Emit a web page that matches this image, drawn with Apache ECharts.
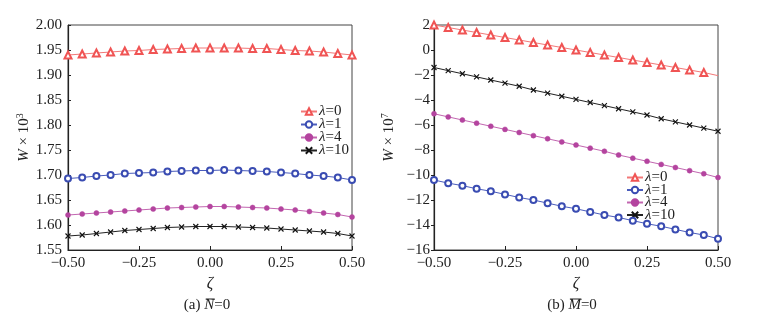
<!DOCTYPE html>
<html>
<head>
<meta charset="utf-8">
<script src="https://cdn.jsdelivr.net/npm/echarts@6/dist/echarts.min.js"></script>
<style>
  html, body { margin: 0; padding: 0; background: #fff; }
  #chart { width: 764px; height: 326px; }
</style>
</head>
<body>
<div id="chart"></div>
<script>
// Thickness coordinate ζ (shared by both panels)
const xi = [-0.50, -0.45, -0.40, -0.35, -0.30, -0.25, -0.20, -0.15, -0.10, -0.05, 0.00,
            0.05, 0.10, 0.15, 0.20, 0.25, 0.30, 0.35, 0.40, 0.45, 0.50];

const lambdaNames = ['λ=0', 'λ=1', 'λ=4', 'λ=10'];

// Panel (a): N̄ = 0, W × 10^3
const a_l0  = [1.940, 1.942, 1.944, 1.946, 1.948, 1.949, 1.951, 1.952, 1.953, 1.954, 1.954,
               1.954, 1.954, 1.953, 1.953, 1.951, 1.949, 1.948, 1.946, 1.943, 1.940];
const a_l1  = [1.693, 1.695, 1.698, 1.700, 1.703, 1.704, 1.705, 1.707, 1.708, 1.709, 1.709,
               1.710, 1.709, 1.708, 1.707, 1.705, 1.703, 1.700, 1.698, 1.695, 1.690];
const a_l4  = [1.620, 1.622, 1.624, 1.626, 1.628, 1.630, 1.632, 1.634, 1.635, 1.636, 1.637,
               1.637, 1.636, 1.635, 1.634, 1.632, 1.630, 1.627, 1.624, 1.621, 1.616];
const a_l10 = [1.578, 1.580, 1.583, 1.586, 1.589, 1.591, 1.593, 1.595, 1.596, 1.597, 1.597,
               1.597, 1.596, 1.595, 1.594, 1.592, 1.590, 1.588, 1.586, 1.583, 1.578];

// Panel (b): M̄ = 0, W × 10^7
const b_l0  = [2.00, 1.80, 1.60, 1.40, 1.20, 1.00, 0.80, 0.60, 0.40, 0.20, 0.00,
               -0.20, -0.40, -0.60, -0.80, -1.00, -1.20, -1.40, -1.60, -1.80, -2.05];
const b_l1  = [-10.40, -10.65, -10.85, -11.10, -11.30, -11.55, -11.80, -12.00, -12.25, -12.50, -12.70,
               -12.95, -13.20, -13.40, -13.65, -13.90, -14.10, -14.35, -14.60, -14.80, -15.10];
const b_l4  = [-5.10, -5.35, -5.60, -5.85, -6.10, -6.35, -6.60, -6.85, -7.10, -7.35, -7.60,
               -7.85, -8.10, -8.40, -8.65, -8.90, -9.15, -9.40, -9.65, -9.90, -10.20];
const b_l10 = [-1.40, -1.65, -1.90, -2.15, -2.40, -2.65, -2.90, -3.20, -3.45, -3.70, -3.95,
               -4.20, -4.45, -4.70, -4.95, -5.20, -5.50, -5.75, -6.00, -6.25, -6.50];

// Axis tick settings
const xTicks = { min: -0.5, max: 0.5, interval: 0.25 };
const aTicks = { min: 1.55, max: 2.00, interval: 0.05 };
const bTicks = { min: -16, max: 2, interval: 2 };

const FONT = 'Liberation Serif';
const INK = '#222';

const styles = [
  { color: '#f05454', line: '#f27878', symbol: 'emptyTriangle', size: 7, bw: 0.9 },
  { color: '#3a4cb2', line: '#4a5cbc', symbol: 'emptyCircle', size: 6, bw: 0.9 },
  { color: '#b4449f', line: '#c266b0', symbol: 'circle', size: 5, bw: 0.5 },
  { color: '#111111', line: '#222222', symbol: 'path://M0,0L10,10M10,0L0,10', size: 5, bw: 1.1 }
];

const minus = s => s.replace('-', '−');
const fmtX = v => minus(v.toFixed(2));

function makeSeries(values, k, axisIdx, skipLastSymbol) {
  const st = styles[k];
  return {
    name: lambdaNames[k],
    type: 'line',
    xAxisIndex: axisIdx,
    yAxisIndex: axisIdx,
    data: values.map((v, i) => {
      const item = { value: [xi[i], v] };
      if (skipLastSymbol && i === values.length - 1) item.symbol = 'none';
      return item;
    }),
    symbol: st.symbol,
    symbolSize: st.size,
    showAllSymbol: true,
    lineStyle: { color: st.line, width: 1 },
    itemStyle: { color: st.color, borderColor: st.color, borderWidth: st.bw },
    emphasis: { disabled: true },
    animation: false,
    z: 3 + k
  };
}

const legendRich = {
  i: { fontFamily: FONT, fontStyle: 'italic', fontSize: 15, color: INK },
  n: { fontFamily: FONT, fontSize: 15, color: INK }
};
const legendFmt = name => '{i|λ}{n|' + name.slice(1) + '}';

function xAxisCfg(gridIndex) {
  return {
    type: 'value', gridIndex,
    min: xTicks.min, max: xTicks.max, interval: xTicks.interval,
    name: 'ζ', nameLocation: 'middle', nameGap: 24,
    nameTextStyle: { fontFamily: FONT, fontStyle: 'italic', fontSize: 16, color: INK },
    axisLine: { onZero: false, lineStyle: { color: '#222', width: 1.2 } },
    axisTick: { inside: true, length: 4, lineStyle: { color: '#222' } },
    axisLabel: { fontFamily: FONT, fontSize: 15, color: INK, margin: 6, formatter: fmtX },
    splitLine: { show: false }
  };
}

function yNameRich() {
  return {
    i: { fontFamily: FONT, fontStyle: 'italic', fontSize: 15, color: INK },
    t: { fontFamily: FONT, fontSize: 15, color: INK },
    s: { fontFamily: FONT, fontSize: 10, color: INK, padding: [0, 0, 8, 0] }
  };
}

const chart = echarts.init(document.getElementById('chart'), null, { renderer: 'canvas' });

const option = {
  backgroundColor: '#fff',
  animation: false,
  grid: [
    { left: 68, top: 25, width: 284, height: 225, show: true, borderColor: '#444', borderWidth: 1 },
    { left: 434, top: 25, width: 284, height: 225, show: true, borderColor: '#444', borderWidth: 1 }
  ],
  xAxis: [xAxisCfg(0), xAxisCfg(1)],
  yAxis: [
    {
      type: 'value', gridIndex: 0,
      min: aTicks.min, max: aTicks.max, interval: aTicks.interval,
      name: '{i|W}{t| × 10}{s|3}', nameLocation: 'middle', nameGap: 35,
      nameTextStyle: { rich: yNameRich() },
      axisLine: { onZero: false, lineStyle: { color: '#222', width: 1.2 } },
      axisTick: { inside: true, length: 3, lineStyle: { color: '#222' } },
      axisLabel: { fontFamily: FONT, fontSize: 15, color: INK, margin: 6, formatter: v => v.toFixed(2) },
      splitLine: { show: false }
    },
    {
      type: 'value', gridIndex: 1,
      min: bTicks.min, max: bTicks.max, interval: bTicks.interval,
      name: '{i|W}{t| × 10}{s|7}', nameLocation: 'middle', nameGap: 36,
      nameTextStyle: { rich: yNameRich() },
      axisLine: { onZero: false, lineStyle: { color: '#222', width: 1.2 } },
      axisTick: { inside: false, length: 3, lineStyle: { color: '#222' } },
      axisLabel: { fontFamily: FONT, fontSize: 15, color: INK, margin: 4, formatter: v => minus(String(v)) },
      splitLine: { show: false }
    }
  ],
  legend: [
    {
      data: lambdaNames, left: 295, top: 99, orient: 'vertical',
      itemWidth: 16, itemHeight: 8, itemGap: -2,
      textStyle: { rich: legendRich, padding: [0, 0, 0, -3] },
      formatter: legendFmt, selectedMode: false
    },
    {
      data: lambdaNames, left: 621, top: 165, orient: 'vertical',
      itemWidth: 16, itemHeight: 8, itemGap: -2.5,
      textStyle: { rich: legendRich, padding: [0, 0, 0, -3] },
      formatter: legendFmt, selectedMode: false
    }
  ],
  series: [
    makeSeries(a_l0, 0, 0, false),
    makeSeries(a_l1, 1, 0, false),
    makeSeries(a_l4, 2, 0, false),
    makeSeries(a_l10, 3, 0, false),
    makeSeries(b_l0, 0, 1, true),
    makeSeries(b_l1, 1, 1, false),
    makeSeries(b_l4, 2, 1, false),
    makeSeries(b_l10, 3, 1, false)
  ]
};

// Panel captions: "(a) N̄=0" and "(b) M̄=0" with an overline drawn above the italic letter
function caption(cx, cy, tag, letter) {
  const ctx = document.createElement('canvas').getContext('2d');
  ctx.font = '15px "' + FONT + '"';
  const wTag = ctx.measureText(tag).width;
  const wEq = ctx.measureText('=0').width;
  ctx.font = 'italic 15px "' + FONT + '"';
  const wL = ctx.measureText(letter).width;
  const total = wTag + wL + wEq;
  const x0 = cx - total / 2;
  return [
    {
      type: 'text', left: x0, top: cy - 9,
      style: {
        text: '{n|' + tag + '}{i|' + letter + '}{n|=0}',
        rich: {
          n: { fontFamily: FONT, fontSize: 15, fill: INK },
          i: { fontFamily: FONT, fontSize: 15, fontStyle: 'italic', fill: INK }
        }
      }
    },
    {
      type: 'line',
      shape: { x1: x0 + wTag + 1.5, y1: cy - 8, x2: x0 + wTag + wL + 0.5, y2: cy - 8 },
      style: { stroke: INK, lineWidth: 1 }
    }
  ];
}

option.graphic = [].concat(caption(207, 307, '(a) ', 'N'), caption(572, 307, '(b) ', 'M'));

chart.setOption(option);
</script>
</body>
</html>
